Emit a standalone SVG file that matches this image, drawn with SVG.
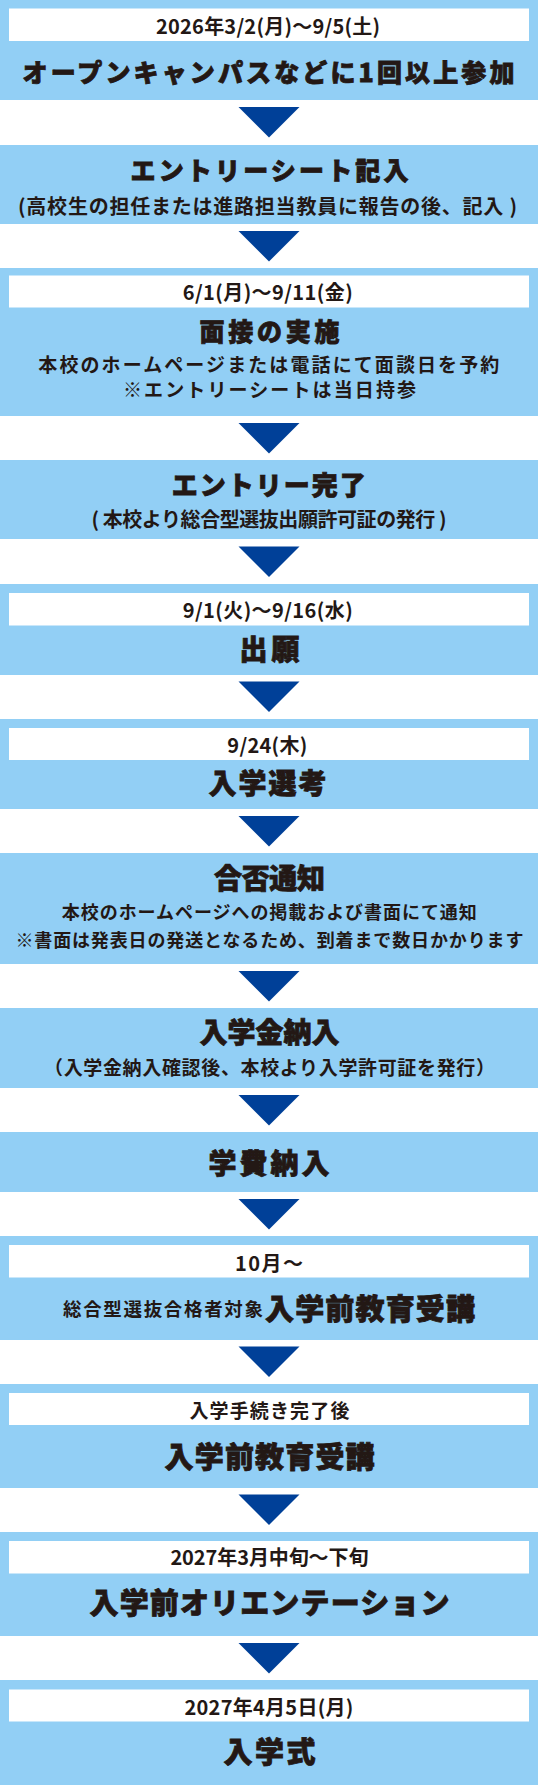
<svg xmlns="http://www.w3.org/2000/svg" width="538" height="1785" viewBox="0 0 538 1785">
<style>
.box{fill:#92CFF5}
.wb{fill:#FFFFFF}
.arr{fill:#004098}
text{font-family:"Noto Sans CJK JP","Noto Sans CJK SC",sans-serif;fill:#231815}
.d{font-size:20px;font-weight:700;text-anchor:middle}
.t{font-weight:900;text-anchor:middle;stroke:#231815;stroke-width:0.8px}
.s{font-weight:700;text-anchor:middle}
</style>
<rect width="538" height="1785" fill="#FFFFFF"/>
<g id="connectors">
<polygon class="arr" points="238.5,107 299.5,107 269,137.5"/>
<polygon class="arr" points="238.5,231 299.5,231 269,261.5"/>
<polygon class="arr" points="238.5,423 299.5,423 269,453.5"/>
<polygon class="arr" points="238.5,546.5 299.5,546.5 269,577"/>
<polygon class="arr" points="238.5,681.5 299.5,681.5 269,712"/>
<polygon class="arr" points="238.5,816 299.5,816 269,846.5"/>
<polygon class="arr" points="238.5,971 299.5,971 269,1001.5"/>
<polygon class="arr" points="238.5,1095 299.5,1095 269,1125.5"/>
<polygon class="arr" points="238.5,1199 299.5,1199 269,1229.5"/>
<polygon class="arr" points="238.5,1346.5 299.5,1346.5 269,1377"/>
<polygon class="arr" points="238.5,1494.5 299.5,1494.5 269,1525"/>
<polygon class="arr" points="238.5,1643 299.5,1643 269,1673.5"/>
</g>
<g id="n1">
<rect class="box" x="0" y="0" width="538" height="100"/>
<rect class="wb" x="9" y="8.5" width="520" height="32.5"/>
<text class="d" x="268" y="33.5" textLength="224">2026年3/2(月)〜9/5(土)</text>
<text class="t" x="268.5" y="82" font-size="25" textLength="492">オープンキャンパスなどに1回以上参加</text>
</g>
<g id="n2">
<rect class="box" x="0" y="145" width="538" height="79"/>
<text class="t" x="269.5" y="180" font-size="25" textLength="278">エントリーシート記入</text>
<text class="s" x="267.5" y="213.5" font-size="20" textLength="499">(高校生の担任または進路担当教員に報告の後、記入 )</text>
</g>
<g id="n3">
<rect class="box" x="0" y="268" width="538" height="148"/>
<rect class="wb" x="9" y="275.5" width="520" height="32"/>
<text class="d" x="267.7" y="299.5" textLength="170">6/1(月)〜9/11(金)</text>
<text class="t" x="269.5" y="341" font-size="25" textLength="140">面接の実施</text>
<text class="s" x="268.8" y="371.5" font-size="19" textLength="461">本校のホームページまたは電話にて面談日を予約</text>
<text class="s" x="269.5" y="397" font-size="19" textLength="293">※エントリーシートは当日持参</text>
</g>
<g id="n4">
<rect class="box" x="0" y="460" width="538" height="79"/>
<text class="t" x="268.8" y="495" font-size="26" textLength="194">エントリー完了</text>
<text class="s" x="269" y="526.5" font-size="20" textLength="355">( 本校より総合型選抜出願許可証の発行 )</text>
</g>
<g id="n5">
<rect class="box" x="0" y="584" width="538" height="91"/>
<rect class="wb" x="9" y="593" width="520" height="32.5"/>
<text class="d" x="267.7" y="618" textLength="170">9/1(火)〜9/16(水)</text>
<text class="t" x="269.5" y="660" font-size="28" textLength="60">出願</text>
</g>
<g id="n6">
<rect class="box" x="0" y="719" width="538" height="90"/>
<rect class="wb" x="9" y="728" width="520" height="32"/>
<text class="d" x="267.3" y="753" textLength="80">9/24(木)</text>
<text class="t" x="267.5" y="794" font-size="28" textLength="118">入学選考</text>
</g>
<g id="n7">
<rect class="box" x="0" y="853" width="538" height="111"/>
<text class="t" x="269.5" y="888.5" font-size="28" textLength="111">合否通知</text>
<text class="s" x="269.3" y="919" font-size="18" textLength="415">本校のホームページへの掲載および書面にて通知</text>
<text class="s" x="269.4" y="947" font-size="18" textLength="508">※書面は発表日の発送となるため、到着まで数日かかります</text>
</g>
<g id="n8">
<rect class="box" x="0" y="1008" width="538" height="80"/>
<text class="t" x="269.4" y="1043" font-size="28" textLength="140">入学金納入</text>
<text class="s" x="269.5" y="1075" font-size="19" textLength="451">（入学金納入確認後、本校より入学許可証を発行）</text>
</g>
<g id="n9">
<rect class="box" x="0" y="1132" width="538" height="60"/>
<text class="t" x="268.9" y="1174" font-size="28" textLength="121">学費納入</text>
</g>
<g id="n10">
<rect class="box" x="0" y="1236" width="538" height="104"/>
<rect class="wb" x="9" y="1245" width="520" height="32.5"/>
<text class="d" x="269" y="1270.5" textLength="68">10月〜</text>
<text class="s" x="63" y="1315.5" font-size="18.5" text-anchor="start" style="text-anchor:start" textLength="200">総合型選抜合格者対象</text>
<text class="t" x="265" y="1320" font-size="29" style="text-anchor:start" textLength="210">入学前教育受講</text>
</g>
<g id="n11">
<rect class="box" x="0" y="1384" width="538" height="104"/>
<rect class="wb" x="9" y="1393" width="520" height="32"/>
<text class="d" x="269.4" y="1418" font-size="19" style="font-size:19px" textLength="160">入学手続き完了後</text>
<text class="t" x="269.6" y="1467.5" font-size="29" textLength="210">入学前教育受講</text>
</g>
<g id="n12">
<rect class="box" x="0" y="1532" width="538" height="104"/>
<rect class="wb" x="9" y="1541" width="520" height="32.5"/>
<text class="d" x="269.4" y="1565" textLength="198">2027年3月中旬〜下旬</text>
<text class="t" x="269.5" y="1614" font-size="29" textLength="360">入学前オリエンテーション</text>
</g>
<g id="n13">
<rect class="box" x="0" y="1680" width="538" height="105"/>
<rect class="wb" x="9" y="1689.5" width="520" height="32"/>
<text class="d" x="268.9" y="1715" textLength="169">2027年4月5日(月)</text>
<text class="t" x="269.4" y="1763" font-size="29" textLength="92">入学式</text>
</g>
</svg>
